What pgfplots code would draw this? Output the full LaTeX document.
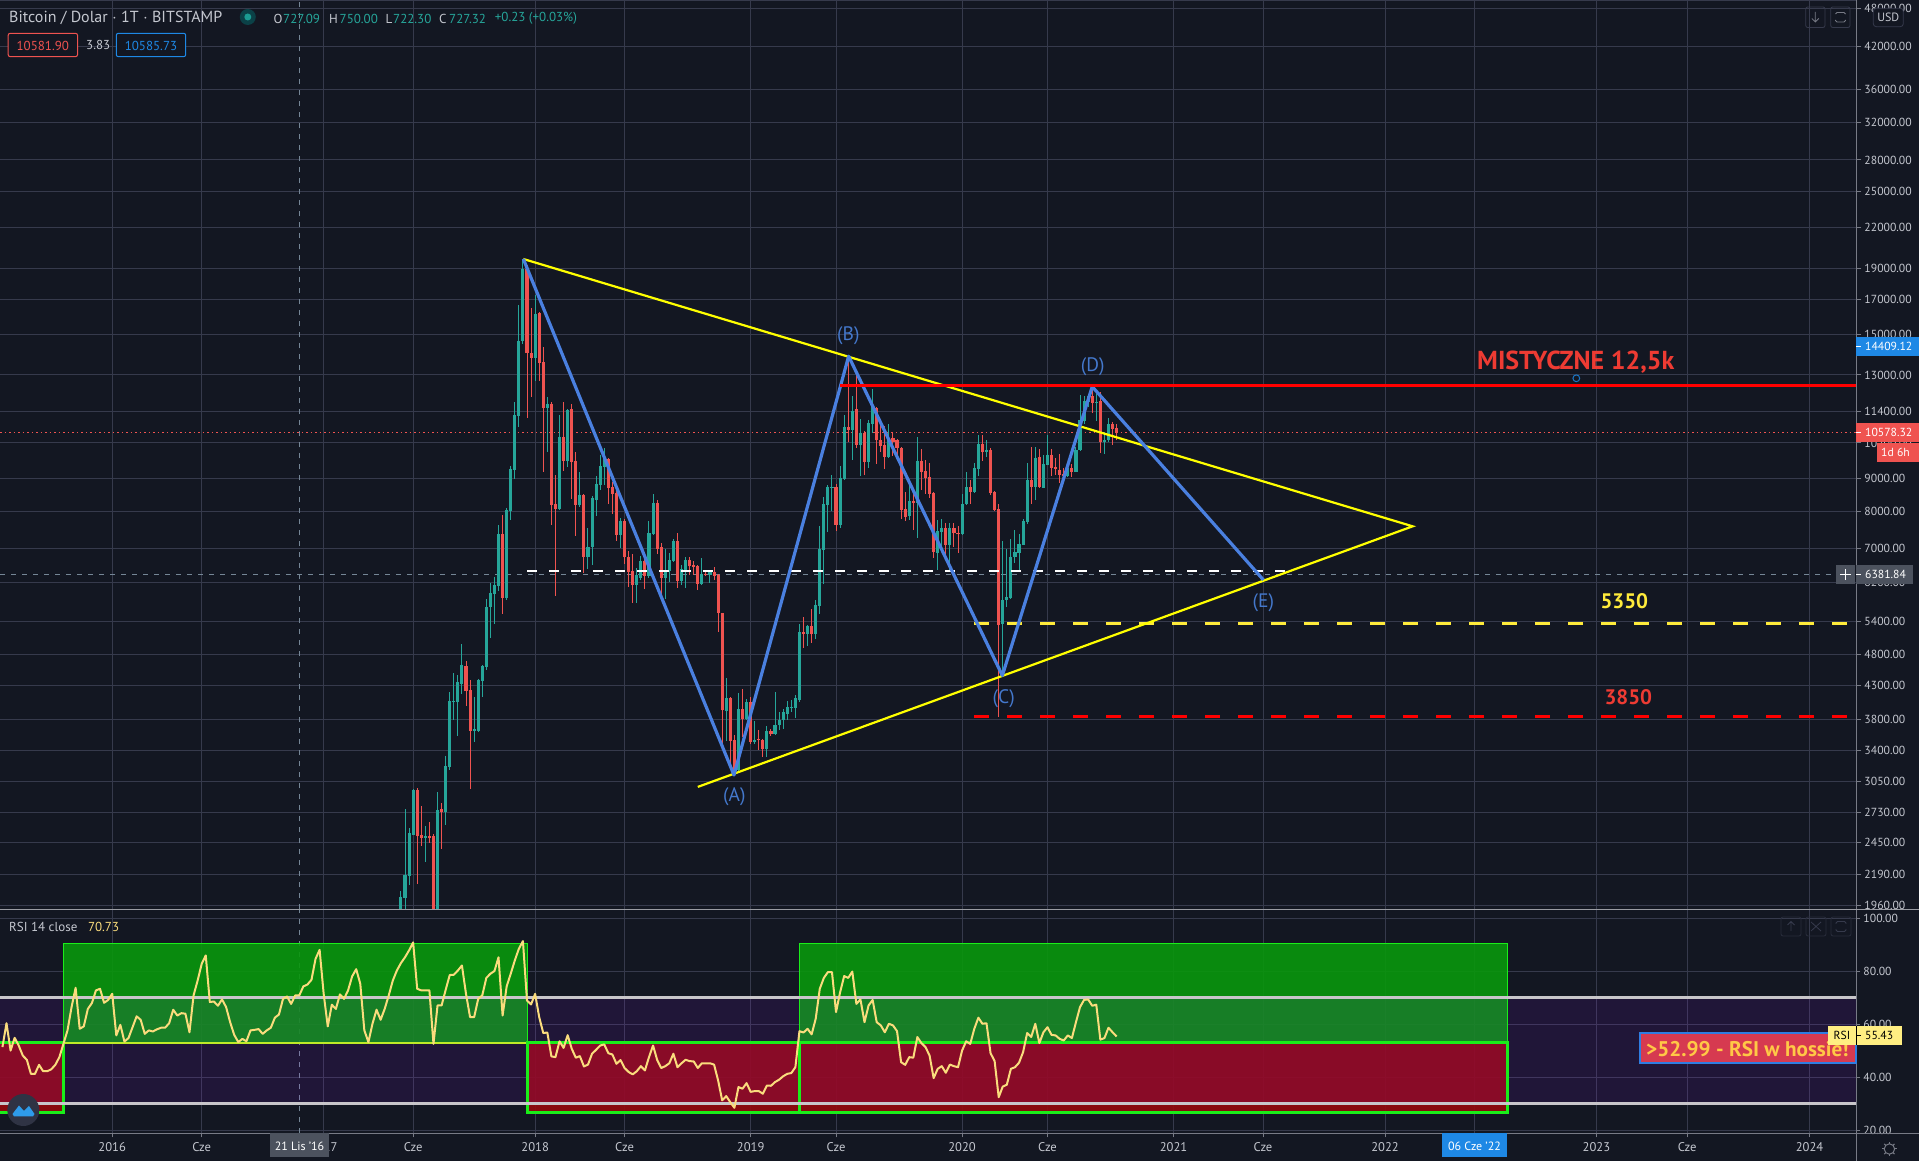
\documentclass[border=0pt]{standalone}
\usepackage{fontspec}
\setmainfont{PT Sans}
\usepackage{pgfplots}
\usepackage{pgfplotstable}
\pgfplotsset{compat=1.18}
\definecolor{bg}{HTML}{131722}
\definecolor{gridc}{HTML}{363A4C}
\definecolor{scalec}{HTML}{787B86}
\definecolor{sepc}{HTML}{9A9CA3}
\definecolor{txt}{HTML}{C4C7CF}
\definecolor{cup}{HTML}{26A69A}
\definecolor{cdn}{HTML}{EF5350}
\definecolor{wave}{HTML}{4A80E0}
\definecolor{wavetxt}{HTML}{4478CC}
\definecolor{yel}{HTML}{FFFF00}
\definecolor{dashy}{HTML}{FFEB3B}
\definecolor{hred}{HTML}{FF0000}
\definecolor{atxt}{HTML}{EE3B33}
\definecolor{cross}{HTML}{758696}
\definecolor{tagg}{HTML}{4C525E}
\definecolor{tagb}{HTML}{1E88E5}
\definecolor{rsiline}{HTML}{FADC7D}
\definecolor{rsitag}{HTML}{FFEE82}
\definecolor{band}{HTML}{9915FF}
\definecolor{lim}{HTML}{1AEE1A}
\definecolor{grnf}{RGB}{9,151,12}
\definecolor{redf}{RGB}{149,9,13}
\definecolor{lvl}{HTML}{C8C6CA}
\definecolor{boxf}{HTML}{D63A50}
\definecolor{boxb}{HTML}{2F7DE1}
\definecolor{boxt}{HTML}{FFC846}
\definecolor{logoc}{RGB}{46,155,234}
\definecolor{ygreen}{RGB}{190,235,40}
\pgfplotstableread{
w o h l c
71 1800 2063 1750 2022
72 2012 2763 1900 2185
73 2172 2578 2108 2533
74 2521 2970 2515 2957
77 2488 2597 2288 2506
80 1850 2933 1800 2750
82 2733 3344 2610 3222
83 3210 4189 3176 4057
84 4050 4493 3790 4057
85 4046 4461 3591 4351
86 4320 4980 4159 4624
89 3656 4115 3515 3670
90 3656 4400 3640 4383
91 4367 4624 4115 4607
92 4588 5848 4537 5683
93 5683 6185 5088 5974
94 5960 6319 5349 6141
95 6119 7608 6015 7367
97 5869 8100 5830 8040
98 8010 9400 7750 9305
99 9270 11786 8980 11252
100 11210 16660 10810 14700
101 14650 19666 14500 18955
104 13830 17265 12740 16133
107 11536 12000 9890 11700
110 8067 11290 8040 10433
112 9574 11500 9370 11454
115 8183 9206 8110 8480
117 6787 7527 6500 7033
118 7025 8450 6595 8390
119 8320 9075 7870 8820
120 8790 9760 8630 9400
121 9370 10010 8790 9640
125 7340 7810 7010 7730
129 6141 6520 5770 6360
130 6310 6825 6250 6700
132 6340 7727 6300 7385
133 7365 8510 7340 8230
136 6300 7000 5850 6480
137 6470 6900 6215 6710
138 6700 7250 6680 7190
140 6230 6590 6140 6500
141 6450 6780 6080 6710
145 6165 6760 6140 6400
147 6370 6460 6190 6440
151 3920 4415 3520 4100
154 3181 4180 3160 3945
156 3815 4095 3800 4050
158 3515 3780 3480 3540
161 3420 3720 3325 3655
163 3615 4200 3600 3725
164 3725 3900 3660 3790
165 3790 3945 3670 3900
166 3880 4060 3790 3975
167 3960 4070 3900 3975
168 3960 4145 3830 4100
169 4070 5350 4050 5198
171 5150 5330 4950 5310
173 5150 5830 5075 5724
174 5700 7590 5540 6985
175 6960 8420 6165 8210
176 8180 8790 7430 8730
177 8710 9110 8000 8730
179 7620 9400 7520 9010
180 8980 11250 8950 10810
182 10690 12070 9610 11450
184 10140 11110 9050 10580
186 9540 11060 9340 10940
187 10900 12370 10580 11580
191 9710 10910 9650 10400
196 7870 8780 7750 8300
198 8240 10420 7260 9570
203 6885 7750 6490 7440
204 7430 7780 7000 7540
206 7100 7665 6490 7540
209 7365 8500 7350 8210
210 8190 9200 8180 8720
212 8560 9510 8530 9340
213 9310 10510 9060 10170
215 9880 10300 9700 9960
219 5350 7200 4450 5827
220 5820 6980 5680 5890
221 5870 7250 5840 6800
222 6780 7480 6650 6910
223 6885 7360 6450 7120
224 7100 7780 7090 7720
225 7700 9510 7650 8950
227 8720 10040 8330 9680
229 8700 9780 8680 9470
230 9440 10480 9430 9780
235 9060 9400 9030 9340
237 9200 10070 9180 9950
238 9930 12110 9900 11060
239 11030 12040 10900 11830
240 11800 12100 11600 12040
242 11770 12130 11050 11820
244 10220 10620 9810 10320
245 10300 11140 10220 10910
}\upT
\pgfplotstableread{
w o h l c
75 2957 2978 2116 2506
76 2515 2792 2418 2488
78 2506 2634 2452 2488
79 2506 2525 1800 1850
81 2763 2822 2392 2733
87 4607 4687 3985 4204
88 4229 4383 2967 3656
96 7367 7884 5540 5869
102 18955 19230 11132 14084
103 14084 16480 12000 13830
105 16190 16300 12740 13585
106 13630 14388 9206 11536
108 11700 11820 7608 8183
109 8207 9107 5910 8067
111 10433 11786 9235 9574
113 11495 11700 8360 9530
114 9574 9890 7315 8183
116 8480 8510 6410 6787
122 9640 9660 8210 8695
123 8725 8880 7925 8510
124 8540 8600 7185 7340
126 7730 7780 6630 6780
127 6787 6940 6100 6433
128 6450 6860 5770 6141
131 6700 6800 6050 6340
134 8230 8330 6860 7000
135 7025 7150 5960 6300
139 7190 7400 6090 6230
142 6710 6790 6360 6570
143 6590 6690 6365 6550
144 6570 6590 6030 6165
146 6400 6490 6340 6370
148 6430 6550 6250 6340
149 6370 6385 5200 5560
150 5560 5570 3478 3930
152 4100 4115 3173 3520
153 3540 3600 3120 3130
155 3945 4240 3570 3815
157 4050 4120 3480 3515
159 3550 3660 3405 3530
160 3540 3545 3325 3420
162 3655 3670 3590 3615
170 5198 5480 4915 5165
172 5310 5640 4990 5150
178 8730 8800 7450 7620
181 10810 13880 10250 10690
183 11500 13200 10020 10140
185 10580 10660 9110 9540
188 11540 11600 9470 10290
189 10320 10940 9890 10100
190 10140 10830 9300 9710
192 10400 10580 9750 10250
193 10320 10360 9610 10000
194 10030 10050 7780 8040
195 8070 8560 7715 7840
197 8300 8540 7470 8240
199 9570 9990 8630 9205
200 9240 9610 8500 9010
201 9040 9490 8370 8500
202 8530 8570 6760 6910
205 7540 7665 6820 7085
207 7540 7680 7030 7390
208 7390 7590 6900 7365
211 8720 8950 8210 8560
214 10170 10510 9570 9860
216 9960 10030 8480 8530
217 8560 8600 8000 8040
218 8070 8210 3840 5330
226 8950 10070 8210 8720
228 9710 9990 8700 8720
231 9780 9990 9060 9340
232 9370 9660 9110 9290
233 9260 9810 8840 9110
234 9140 9340 8890 9060
236 9340 9470 9020 9200
241 12040 12480 11340 11770
243 11830 12230 9840 10220
246 10910 10980 10110 10720
247 10750 10910 10320 10578
}\dnT
\pgfplotstableread{
w r
-27 51.4
-26 60.4
-25 50.1
-24 54.9
-23 52.0
-22 48.2
-21 46.6
-20 41.3
-19 41.3
-18 44.7
-17 42.3
-16 42.3
-15 43.0
-14 44.7
-13 47.6
-12 52.6
-11 57.7
-10 66.5
-9 73.8
-8 58.3
-7 59.2
-6 65.8
-5 68.0
-4 72.8
-3 73.4
-2 68.1
-1 69.2
0 71.5
1 55.8
2 59.8
3 53.5
4 54.8
5 58.9
6 63.0
7 61.7
8 56.4
9 57.7
10 57.3
11 58.1
12 58.7
13 58.7
14 60.4
15 65.5
16 63.3
17 64.2
18 64.0
19 57.0
20 70.9
21 76.5
22 82.8
23 86.0
24 68.4
25 68.6
26 67.0
27 69.4
28 66.5
29 60.8
30 56.0
31 53.3
32 54.5
33 53.6
34 57.7
35 57.9
36 58.2
37 56.4
38 57.7
39 58.7
40 62.5
41 63.7
42 69.6
43 70.5
44 67.7
45 70.9
46 70.9
47 74.3
48 75.0
49 76.8
50 84.7
51 88.1
52 71.5
53 59.2
54 67.4
55 65.8
56 71.3
57 69.6
58 72.8
59 78.1
60 80.8
61 75.3
62 57.7
63 53.3
64 60.2
65 65.5
66 61.7
67 65.8
68 70.9
69 76.5
70 80.3
71 83.1
72 85.3
73 87.9
74 90.9
75 73.4
76 72.8
77 72.8
78 72.8
79 52.6
80 67.1
81 67.1
82 73.0
83 78.6
84 78.7
85 80.3
86 82.2
87 71.5
88 62.7
89 62.7
90 69.6
91 70.9
92 77.5
93 79.1
94 80.1
95 85.3
96 63.3
97 74.3
98 79.1
99 84.1
100 88.5
101 91.4
102 69.0
103 67.5
104 71.5
105 62.7
106 56.7
107 56.9
108 47.9
109 47.6
110 53.6
111 51.1
112 55.9
113 50.8
114 47.4
115 48.0
116 44.1
117 44.8
118 48.9
119 50.4
120 52.0
121 52.4
122 49.1
123 48.6
124 45.1
125 46.5
126 43.5
127 42.0
128 41.1
129 42.3
130 44.2
131 42.6
132 47.6
133 52.0
134 46.6
135 43.5
136 44.2
137 45.3
138 48.9
139 43.8
140 45.3
141 46.6
142 46.1
143 46.0
144 43.5
145 45.3
146 45.3
147 45.3
148 44.8
149 38.8
150 31.3
151 32.9
152 30.6
153 28.5
154 36.3
155 35.7
156 37.8
157 34.5
158 34.8
159 34.8
160 33.8
161 36.9
162 36.8
163 38.2
164 39.1
165 40.4
166 41.3
167 41.6
168 43.8
169 57.4
170 56.9
171 58.3
172 56.2
173 62.1
174 73.4
175 77.5
176 79.7
177 79.7
178 64.6
179 72.1
180 78.2
181 77.5
182 79.9
183 67.7
184 69.4
185 60.8
186 67.1
187 69.2
188 60.8
189 59.6
190 57.0
191 60.2
192 59.6
193 57.4
194 45.7
195 44.7
196 47.6
197 47.4
198 55.2
199 52.9
200 51.4
201 48.2
202 39.7
203 43.2
204 44.2
205 41.7
206 44.8
207 44.2
208 43.8
209 50.1
210 53.6
211 52.6
212 58.3
213 62.5
214 60.2
215 60.4
216 49.1
217 46.1
218 32.5
219 36.5
220 37.2
221 43.2
222 43.8
223 45.5
224 49.5
225 56.7
226 55.2
227 60.2
228 52.9
229 57.0
230 58.9
231 56.0
232 55.8
233 54.5
234 53.9
235 55.8
236 54.8
237 60.8
238 66.5
239 69.2
240 69.4
241 67.0
242 67.4
243 54.2
244 54.8
245 58.7
246 57.0
247 55.4
}\rsiT
\pgfplotsset{
  common/.style={
    scale only axis, width=1856.3pt, xmin=-27.6, xmax=428.9,
    enlargelimits=false, axis line style={draw=none},
    xmajorgrids, ymajorgrids, grid style={color=gridc,line width=1pt},
    xtick={0,22,52,74,104,126,157,178,209,230,261,283,313,335,365,387.3,417.4},
    ytick pos=right, yticklabel pos=right,
    tick align=outside, major tick length=5pt,
    tick style={color=scalec,line width=1pt},
    yticklabel style={anchor=west,inner sep=0pt,xshift=3pt,text=txt,font=\fontsize{11.7}{12}\selectfont},
  },
  wick/.style={draw=none,forget plot,mark=none,error bars/.cd,y dir=both,y explicit,error mark=none,error bar style={draw=#1,line width=1pt}},
  body/.style={draw=none,forget plot,mark=none,error bars/.cd,y dir=both,y explicit,error mark=none,error bar style={draw=#1,line width=3.1pt}},
}
\begin{document}
\begin{tikzpicture}
\useasboundingbox (0,0) rectangle (1919pt,1161pt);
\fill[bg] (0,0) rectangle (1919pt,1161pt);
\begin{axis}[common, at={(0pt,251.7pt)}, anchor=south west, height=909.3pt,
  ymode=log, ymin=1932.4, ymax=49544,
  xticklabels={}, xtick style={draw=none},
  ytick={48000,42000,36000,32000,28000,25000,22000,19000,17000,15000,13000,11400,10200,9000,8000,7000,6200,5400,4800,4300,3800,3400,3050,2730,2450,2190,1960},
  yticklabels={48000.00,42000.00,36000.00,32000.00,28000.00,25000.00,22000.00,19000.00,17000.00,15000.00,13000.00,11400.00,10200.00,9000.00,8000.00,7000.00,6200.00,5400.00,4800.00,4300.00,3800.00,3400.00,3050.00,2730.00,2450.00,2190.00,1960.00},
  minor y tick num=0, log basis y=10]
% crosshair and last price
\addplot[forget plot,cross,line width=1pt,dash pattern=on 5pt off 6pt] coordinates {(46.1,1932.4)(46.1,49544)};
\addplot[forget plot,cross,line width=1pt,dash pattern=on 5pt off 6pt] coordinates {(-27.6,6381.84)(428.9,6381.84)};
\addplot[forget plot,cdn,line width=1pt,dash pattern=on 1.5pt off 3pt] coordinates {(-27.6,10578.32)(428.9,10578.32)};
% candles
\addplot[wick=cup] table[x=w,y=c,y error plus expr=\thisrow{h}-\thisrow{c},y error minus expr=\thisrow{c}-\thisrow{l}] {\upT};
\addplot[wick=cdn] table[x=w,y=c,y error plus expr=\thisrow{h}-\thisrow{c},y error minus expr=\thisrow{c}-\thisrow{l}] {\dnT};
\addplot[body=cup] table[x=w,y=c,y error plus expr=0,y error minus expr=\thisrow{c}-\thisrow{o}] {\upT};
\addplot[body=cdn] table[x=w,y=c,y error plus expr=\thisrow{o}-\thisrow{c},y error minus expr=0] {\dnT};
% drawings
\addplot[forget plot,white,line width=2pt,dash pattern=on 10pt off 12pt] coordinates {(102,6459)(289,6459)};
\addplot[forget plot,dashy,line width=3pt,dash pattern=on 15pt off 18pt] coordinates {(212,5360)(426.7,5360)};
\addplot[forget plot,hred,line width=3pt,dash pattern=on 15pt off 18pt] coordinates {(212,3849)(426.7,3849)};
\addplot[forget plot,yel,line width=2.2pt] coordinates {(101.1,19666)(319.8,7577)(144,2990)};
\addplot[forget plot,wave,line width=3.2pt,line join=round] coordinates {(101.1,19666)(152.9,3120)(181.1,13900)(218.9,4449)(241,12470)(283.1,6257)};
\addplot[forget plot,hred,line width=3pt] coordinates {(178.9,12530)(428.9,12530)};
\end{axis}
\fill[bg] (1856.3pt,27.7pt) rectangle (1919pt,251.7pt);
\begin{axis}[common, at={(0pt,27.7pt)}, anchor=south west, height=224pt,
  ymin=18.87, ymax=103.4,
  ytick={20,40,60,80,100}, yticklabels={20.00,40.00,60.00,80.00,100.00},
  xtick pos=bottom, major tick length=4pt,
  xticklabels={2016,Cze,2017,Cze,2018,Cze,2019,Cze,2020,Cze,2021,Cze,2022,Cze,2023,Cze,2024},
  xticklabel style={anchor=north,inner sep=0pt,yshift=-5.2pt,text=txt,font=\fontsize{12.6}{13}\selectfont}]
\addplot[forget plot,cross,line width=1pt,dash pattern=on 5pt off 6pt] coordinates {(46.1,18.87)(46.1,103.4)};
% zones
\addplot[forget plot,fill=grnf,fill opacity=.9,draw=none] coordinates {(-12,52.99)(102.1,52.99)(102.1,90.6)(-12,90.6)} --cycle;
\addplot[forget plot,fill=grnf,fill opacity=.9,draw=none] coordinates {(169,52.99)(343.2,52.99)(343.2,90.6)(169,90.6)} --cycle;
\addplot[forget plot,fill=redf,fill opacity=.9,draw=none] coordinates {(-40,26.8)(-12,26.8)(-12,52.99)(-40,52.99)} --cycle;
\addplot[forget plot,fill=redf,fill opacity=.9,draw=none] coordinates {(102.1,26.8)(169,26.8)(169,52.99)(102.1,52.99)} --cycle;
\addplot[forget plot,fill=redf,fill opacity=.9,draw=none] coordinates {(169,26.8)(343.2,26.8)(343.2,52.99)(169,52.99)} --cycle;
\addplot[forget plot,fill=band,fill opacity=.1,draw=none] coordinates {(-27.6,30)(428.9,30)(428.9,70)(-27.6,70)} --cycle;
% outlines
\addplot[forget plot,lim,line width=1pt] coordinates {(-12,52.99)(-12,90.6)(102.1,90.6)(102.1,52.99)};
\addplot[forget plot,lim,line width=1pt] coordinates {(169,52.99)(169,90.6)(343.2,90.6)(343.2,52.99)};
\addplot[forget plot,ygreen,line width=2pt] coordinates {(-12,52.99)(102.1,52.99)};
\addplot[forget plot,lim,line width=3.2pt] coordinates {(-40,52.99)(-12,52.99)(-12,26.8)(-40,26.8)};
\addplot[forget plot,lim,line width=3.2pt] coordinates {(169,52.99)(102.1,52.99)(102.1,26.8)(169,26.8)};
\addplot[forget plot,lim,line width=3.2pt] coordinates {(169,26.8)(169,52.99)(343.2,52.99)(343.2,26.8)(169,26.8)};
% band limits
\addplot[forget plot,lvl,line width=3pt] coordinates {(-27.6,70)(428.9,70)};
\addplot[forget plot,lvl,line width=3pt] coordinates {(-27.6,30)(428.9,30)};
% RSI
\addplot[forget plot,rsiline,line width=2pt,line join=round] table[x=w,y=r] {\rsiT};
\end{axis}
\begin{scope}[shift={(0pt,1161pt)},x=1pt,y=-1pt]
% frame lines
\draw[gridc,line width=1pt] (0,1) -- (1856.3,1);
\draw[scalec,line width=1pt] (1856.3,0) -- (1856.3,1161);
\draw[sepc,line width=1pt] (0,909.3) -- (1919,909.3);
\draw[scalec,line width=1pt] (0,1133.3) -- (1919,1133.3);
% header
\node[anchor=west,inner sep=0pt,text=txt,font=\fontsize{16}{17}\selectfont] at (9,18) {Bitcoin / Dolar $\cdot$ 1T $\cdot$ BITSTAMP};
\fill[teal!40!bg] (247.8,17) circle (8);
\fill[cup!70!teal] (247.8,17) circle (3.5);
\begin{scope}[every node/.style={anchor=west,inner sep=0pt,font=\fontsize{13}{14}\selectfont}]
\node[text=txt] at (273.5,18.5) {O};
\node[text=cup] at (283,18.5) {727.09};
\node[text=txt] at (329,18.5) {H};
\node[text=cup] at (339.5,18.5) {750.00};
\node[text=txt] at (385.3,18.5) {L};
\node[text=cup] at (393,18.5) {722.30};
\node[text=txt] at (439,18.5) {C};
\node[text=cup] at (449,18.5) {727.32};
\node[text=cup] at (494.7,18.5) {+0.23 (+0.03\%)};
\node[text=txt] at (86,45) {3.83};
\node[text=txt] at (9,926.7) {RSI 14 close};
\node[text=rsiline] at (87.8,926.7) {70.73};
\end{scope}
\draw[cdn,line width=1pt,rounded corners=2pt,fill=bg] (8.2,33.3) rectangle (77.5,56.7);
\node[text=cdn,inner sep=0pt,font=\fontsize{13}{14}\selectfont] at (42.8,45.5) {10581.90};
\draw[tagb,line width=1pt,rounded corners=2pt,fill=bg] (116.3,33.3) rectangle (185.7,56.7);
\node[text=tagb,inner sep=0pt,font=\fontsize{13}{14}\selectfont] at (151,45.5) {10585.73};
% top right buttons
\draw[gridc,line width=.8pt,rounded corners=2pt] (1805.7,7) rectangle (1825,27.5);
\draw[scalec,line width=.8pt] (1815.3,12) -- (1815.3,22) (1811.8,18.5) -- (1815.3,22) -- (1818.8,18.5);
\draw[gridc,line width=.8pt,rounded corners=2pt] (1830.7,7) rectangle (1850,27.5);
\draw[scalec,line width=.8pt,rounded corners=1.5pt] (1835.5,14) -- (1835.5,12.5) -- (1845.5,12.5) -- (1845.5,14) (1835.5,20) -- (1835.5,22) -- (1845.5,22) -- (1845.5,20);
\draw[gridc,line width=.8pt,rounded corners=3pt,fill=bg] (1873.3,8.3) rectangle (1903.3,26.7);
\node[text=txt,inner sep=0pt,font=\fontsize{12}{13}\selectfont] at (1888.3,17) {USD};
% right tags
\begin{scope}[every node/.style={anchor=west,inner sep=0pt,text=white,font=\fontsize{11.7}{12}\selectfont}]
\fill[tagb] (1856.3,337) rectangle (1919,355.7);
\draw[white,line width=1pt] (1856.3,346.4) -- (1861.3,346.4);
\node at (1865,346.6) {14409.12};
\fill[cdn] (1856.3,423) rectangle (1919,442.3);
\draw[white,line width=1pt] (1856.3,432.5) -- (1861.3,432.5);
\node at (1865,432.7) {10578.32};
\fill[cdn] (1877,443) rectangle (1919,461.7);
\node at (1881,452.5) {1d 6h};
\fill[tagg] (1856.3,565) rectangle (1912.7,583.7);
\draw[white,line width=1pt] (1856.3,574.4) -- (1861.3,574.4);
\node at (1865,574.6) {6381.84};
\fill[tagg] (1836,565) rectangle (1855,583.7);
\draw[white,line width=1.2pt] (1840,574.3) -- (1851,574.3) (1845.5,569) -- (1845.5,579.6);
\end{scope}
% annotations
\begin{scope}[every node/.style={inner sep=0pt,text=wavetxt,font=\fontsize{19.5}{20}\selectfont}]
\node at (734.3,796.7) {(A)};
\node at (848.3,336) {(B)};
\node at (1003.7,698.3) {(C)};
\node at (1092.7,366.7) {(D)};
\node at (1263.3,602.7) {(E)};
\end{scope}
\node[anchor=west,inner sep=0pt,text=atxt,font=\fontsize{26}{27}\bfseries\selectfont] at (1477,362.5) {MISTYCZNE 12,5k};
\draw[tagb!85!black,line width=1pt] (1576.3,378.3) circle (3.4);
\node[anchor=west,inner sep=0pt,text=dashy,font=\fontsize{21}{22}\bfseries\selectfont] at (1600.3,600.7) {5350};
\node[anchor=west,inner sep=0pt,text=atxt,font=\fontsize{21}{22}\bfseries\selectfont] at (1604.3,696.7) {3850};
% RSI note
\begin{scope}
\clip (1640,1033) rectangle (1856.3,1064);
\end{scope}
\draw[boxb,line width=2pt,fill=boxf] (1640,1033.3) rectangle (1856.3,1063.3);
\node[anchor=west,inner sep=0pt,text=boxt,font=\fontsize{21.2}{22}\bfseries\selectfont] at (1646,1049) {>52.99 - RSI w hossie!};
\fill[rsitag] (1827.8,1026) rectangle (1902,1045);
\draw[black,line width=.8pt] (1856.3,1026) -- (1856.3,1045) (1856.3,1035.5) -- (1861.3,1035.5);
\node[text=black,inner sep=0pt,font=\fontsize{11.7}{12}\selectfont] at (1842,1035.7) {RSI};
\node[anchor=west,text=black,inner sep=0pt,font=\fontsize{11.7}{12}\selectfont] at (1865,1035.7) {55.43};
% RSI buttons
\draw[gridc!60!bg,line width=.8pt,rounded corners=2pt] (1781,917) rectangle (1801,936);
\draw[gridc,line width=.8pt] (1791,921.5) -- (1791,931) (1787.5,925) -- (1791,921.5) -- (1794.5,925);
\draw[gridc!60!bg,line width=.8pt,rounded corners=2pt] (1806,917) rectangle (1826,936);
\draw[gridc,line width=.8pt] (1811,922) -- (1821,931) (1821,922) -- (1811,931);
\draw[gridc!60!bg,line width=.8pt,rounded corners=2pt] (1831,917) rectangle (1851,936);
\draw[gridc,line width=.8pt,rounded corners=1.5pt] (1836,924) -- (1836,921.5) -- (1846,921.5) -- (1846,924) (1836,929) -- (1836,931.5) -- (1846,931.5) -- (1846,929);
% date tags
\fill[tagg] (269.8,1133.3) rectangle (329.4,1157);
\node[text=white,inner sep=0pt,font=\fontsize{12}{13}\selectfont] at (299.6,1146) {21 Lis '16};
\fill[tagb] (1442.4,1133.3) rectangle (1507,1157);
\node[text=white,inner sep=0pt,font=\fontsize{12}{13}\selectfont] at (1474.5,1146) {06 Cze '22};
% logo
\fill[gridc!80!bg] (23.3,1110) circle (16);
\fill[logoc] (12.5,1114) -- (19,1105.5) -- (24,1111) -- (29,1106) -- (34.5,1114) -- (33,1116.5) -- (14,1116.5) -- cycle;
% gear
\draw[scalec,line width=1pt] (1889.4,1149) circle (5.2);
\foreach \a in {0,45,...,315} {\draw[scalec,line width=1pt] (1889.4,1149) ++(\a:5.2) -- ++(\a:2);}
\end{scope}
\end{tikzpicture}
\end{document}
